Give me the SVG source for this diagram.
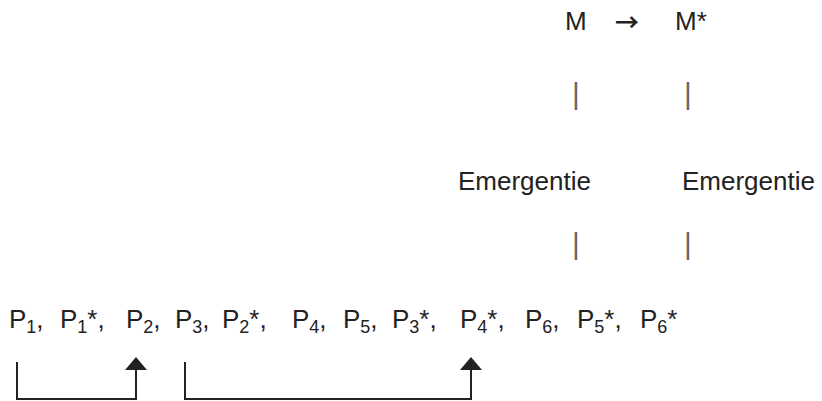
<svg xmlns="http://www.w3.org/2000/svg" width="822" height="401" viewBox="0 0 822 401">
<defs>
<style>
.t{font-family:"Liberation Sans",Arial,Helvetica,sans-serif;font-size:26px;fill:#222}
.s{font-size:18px}
.bar{font-family:"Liberation Sans",Arial,sans-serif;font-size:30px;fill:#666;text-anchor:middle}
.arw{font-family:"Noto Sans CJK JP","DejaVu Sans",sans-serif;font-size:24px;font-weight:bold;fill:#222}
.ln{fill:none;stroke:#222;stroke-width:2}
</style>
<marker id="ah" markerWidth="22" markerHeight="13" refX="11" refY="13" viewBox="0 0 22 13" markerUnits="userSpaceOnUse" orient="0">
<path d="M0,13 L11,0 L22,13 Z" fill="#222"/>
</marker>
</defs>
<rect width="822" height="401" fill="#fff"/>
<g id="m-top">
<text class="t" x="565" y="30">M</text>
<text class="arw" x="615" y="31">→</text>
<text class="t" x="675" y="30">M*</text>
</g>
<g id="bars-top">
<text class="bar" x="576" y="104">|</text>
<text class="bar" x="688" y="104">|</text>
</g>
<g id="emergentie-1"><text class="t" x="458" y="190">Emergentie</text></g>
<g id="emergentie-2"><text class="t" x="682" y="190">Emergentie</text></g>
<g id="bars-bottom">
<text class="bar" x="576" y="254">|</text>
<text class="bar" x="688" y="254">|</text>
</g>
<g id="sequence">
<text class="t" x="9" y="328">P<tspan class="s" dy="5">1</tspan><tspan dy="-5">,</tspan></text>
<text class="t" x="60" y="328">P<tspan class="s" dy="5">1</tspan><tspan dy="-5">*,</tspan></text>
<text class="t" x="126" y="328">P<tspan class="s" dy="5">2</tspan><tspan dy="-5">,</tspan></text>
<text class="t" x="175" y="328">P<tspan class="s" dy="5">3</tspan><tspan dy="-5">,</tspan></text>
<text class="t" x="222" y="328">P<tspan class="s" dy="5">2</tspan><tspan dy="-5">*,</tspan></text>
<text class="t" x="292" y="328">P<tspan class="s" dy="5">4</tspan><tspan dy="-5">,</tspan></text>
<text class="t" x="343" y="328">P<tspan class="s" dy="5">5</tspan><tspan dy="-5">,</tspan></text>
<text class="t" x="392" y="328">P<tspan class="s" dy="5">3</tspan><tspan dy="-5">*,</tspan></text>
<text class="t" x="460" y="328">P<tspan class="s" dy="5">4</tspan><tspan dy="-5">*,</tspan></text>
<text class="t" x="525" y="328">P<tspan class="s" dy="5">6</tspan><tspan dy="-5">,</tspan></text>
<text class="t" x="577" y="328">P<tspan class="s" dy="5">5</tspan><tspan dy="-5">*,</tspan></text>
<text class="t" x="640" y="328">P<tspan class="s" dy="5">6</tspan><tspan dy="-5">*</tspan></text>
</g>
<g id="connectors">
<path class="ln" d="M17,362 V399 H136 V370" marker-end="url(#ah)"/>
<path class="ln" d="M185,362 V399 H471 V370" marker-end="url(#ah)"/>
</g>
</svg>
